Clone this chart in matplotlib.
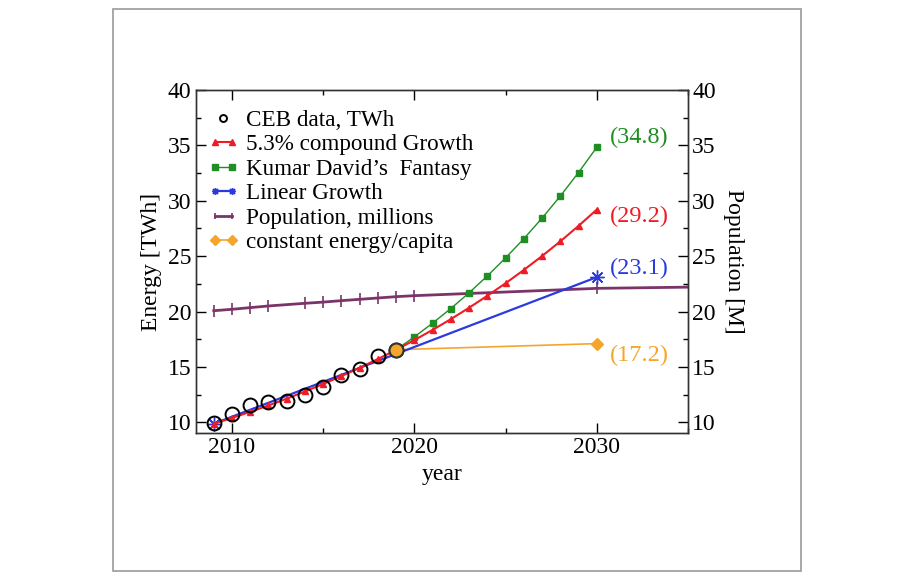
#!/usr/bin/env python3
"""CEB energy demand projections vs population"""

import matplotlib.pyplot as plt
from matplotlib.legend_handler import HandlerLine2D
from matplotlib.patches import Rectangle
from matplotlib.ticker import MultipleLocator

plt.rcParams['font.family'] = ['Liberation Serif', 'DejaVu Serif']

# data
ceb_years = [2009, 2010, 2011, 2012, 2013, 2014, 2015, 2016, 2017, 2018, 2019]
ceb_twh = [9.9, 10.75, 11.55, 11.8, 11.95, 12.45, 13.15, 14.25, 14.8, 15.95, 16.55]

compound_years = list(range(2009, 2031))
compound_twh = [9.87, 10.39, 10.94, 11.52, 12.13, 12.78, 13.45, 14.17, 14.92, 15.71,
                16.54, 17.42, 18.34, 19.31, 20.34, 21.42, 22.55, 23.75, 25.01, 26.33,
                27.73, 29.2]

fantasy_years = list(range(2019, 2031))
fantasy_twh = [16.55, 17.71, 18.95, 20.27, 21.69, 23.21, 24.84, 26.57, 28.43, 30.42,
               32.55, 34.83]

linear_years = [2009, 2030]
linear_twh = [9.87, 23.1]

pop_years = [2009, 2010, 2011, 2012, 2014, 2015, 2016, 2017, 2018, 2019, 2020, 2030, 2035]
pop_millions = [20.07, 20.2, 20.35, 20.5, 20.74, 20.85, 20.98, 21.1, 21.22, 21.34,
                21.43, 22.09, 22.2]

const_years = [2019, 2030]
const_twh = [16.55, 17.1]

end_labels = ['(34.8)', '(29.2)', '(23.1)', '(17.2)']
end_label_y = [35.7, 28.6, 23.9, 16.0]

c_red = '#ee1c25'
c_green = '#1f8f24'
c_blue = '#2a3ae0'
c_purple = '#7a3468'
c_orange = '#f5a52a'
label_colors = [c_green, c_red, c_blue, c_orange]

fig = plt.figure(figsize=(9.14, 5.77), dpi=100)
ax = fig.add_axes([0.2139, 0.249, 0.5388, 0.595])

# ページ枠
fig.add_artist(Rectangle((113.3 / 914, 1 - 570.7 / 577), 687.4 / 914, 561.4 / 577,
                         transform=fig.transFigure, fill=False,
                         edgecolor='#9a9a9a', linewidth=1.2))

h_pop, = ax.plot(pop_years, pop_millions, color=c_purple, lw=2.0, marker='|',
                 ms=9, mew=1.2, markevery=list(range(len(pop_years) - 1)),
                 label='Population, millions', zorder=2)
h_const, = ax.plot(const_years, const_twh, color=c_orange, lw=1.2, marker='D',
                   ms=6, markevery=[1], label='constant energy/capita', zorder=3)
h_fant, = ax.plot(fantasy_years, fantasy_twh, color=c_green, lw=1.0, marker='s',
                  ms=5, label='Kumar David\u2019s  Fantasy', zorder=3)
h_lin, = ax.plot(linear_years, linear_twh, color=c_blue, lw=1.6, marker=(8, 2, 0),
                 ms=10, mew=1.0, mec=c_blue, label='Linear Growth', zorder=3)
h_comp, = ax.plot(compound_years, compound_twh, color=c_red, lw=1.5, marker='^',
                  ms=5, label='5.3% compound Growth', zorder=4)
h_ceb, = ax.plot(ceb_years, ceb_twh, ls='none', marker='o', ms=10, mfc='none',
                 mec='black', mew=1.4, label='CEB data, TWh', zorder=5)
ax.plot(ceb_years[-1:], ceb_twh[-1:], ls='none', marker='o', ms=10, mfc=c_orange,
        mec='#333333', mew=1.4, zorder=6)

for txt, y, col in zip(end_labels, end_label_y, label_colors):
    ax.text(2030.7, y, txt, color=col, fontsize=17.5, ha='left', va='center')

ax.set_xlim(2008, 2035)
ax.set_ylim(9, 40)
ax.xaxis.set_major_locator(MultipleLocator(10))
ax.xaxis.set_minor_locator(MultipleLocator(5))
ax.yaxis.set_major_locator(MultipleLocator(5))
ax.yaxis.set_minor_locator(MultipleLocator(2.5))
ax.tick_params(which='both', direction='in', top=True, labelsize=17, width=1)
ax.tick_params(which='major', length=7, pad=3)
ax.tick_params(which='minor', length=3.5)
ax.set_xlabel('year', fontsize=17, labelpad=4)
ax.set_ylabel('Energy [TWh]', fontsize=17, labelpad=4)

ax2 = ax.twinx()
ax2.set_ylim(9, 40)
ax2.yaxis.set_major_locator(MultipleLocator(5))
ax2.yaxis.set_minor_locator(MultipleLocator(2.5))
ax2.tick_params(which='both', direction='in', labelsize=17, width=1)
ax2.tick_params(which='major', length=7, pad=3)
ax2.tick_params(which='minor', length=3.5)
ax2.set_ylabel('Population [M]', fontsize=17, rotation=-90, labelpad=20)

for a in (ax, ax2):
    for s in a.spines.values():
        s.set_linewidth(1.0)
        s.set_color('#333333')

handles = [h_ceb, h_comp, h_fant, h_lin, h_pop, h_const]
leg = ax.legend(handles=handles, loc='upper left', bbox_to_anchor=(-0.008, 0.99),
                frameon=False, fontsize=16.7, numpoints=2, handlelength=1.35,
                handletextpad=0.3, labelspacing=0.14, borderpad=0.2,
                handler_map={h_ceb: HandlerLine2D(numpoints=1)})
for lh in leg.legend_handles:
    lh.set_markersize(5)

plt.savefig('out.png', dpi=100)
